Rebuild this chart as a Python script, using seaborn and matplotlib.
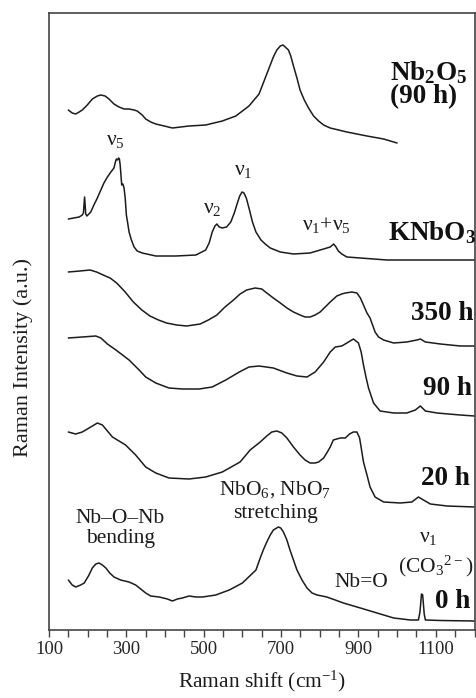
import numpy as np
import pandas as pd
import matplotlib
matplotlib.use("Agg")
import matplotlib.pyplot as plt
from matplotlib.ticker import FixedLocator, MultipleLocator
import seaborn as sns

# ---- Raman spectra (shift in cm^-1, relative intensity) and stacking offsets ----
nb2o5_shift = [150, 160, 169, 178, 186, 199, 212, 225, 234, 245, 255, 268, 281, 294, 307,
               320, 328, 341, 350, 363, 376, 398, 419, 462, 505, 548, 583, 617, 643, 654,
               663, 672, 680, 689, 698, 705, 719, 725, 732, 741, 749, 760, 771, 784, 797,
               810, 827, 870, 922, 965, 1000]
nb2o5_int = [35, 32, 31, 33, 35, 40, 46, 49, 50, 49, 46, 41, 38, 36, 36,
             35, 34, 30, 26, 23, 21, 19, 17, 19, 20, 24, 29, 39, 51, 62,
             71, 80, 88, 95, 99, 100, 95, 89, 79, 67, 55, 45, 37, 29, 24,
             20, 17, 13, 9, 6, 2]

knbo3_shift = [150, 178, 186, 189, 192, 195, 198, 208, 216, 225, 234, 242, 251, 260, 268,
               271, 274, 277, 280, 282, 284, 288, 291, 294, 297, 300, 303, 307, 313, 320,
               328, 341, 376, 428, 480, 505, 514, 522, 529, 534, 540, 548, 559, 570, 579,
               587, 593, 599, 604, 610, 617, 626, 635, 648, 659, 672, 698, 732, 775, 810,
               827, 836, 842, 848, 857, 870, 905, 974, 1200]
knbo3_int = [41, 43, 45, 47, 63, 46, 44, 48, 55, 62, 70, 77, 83, 88, 92,
             97, 101, 100, 102, 101, 95, 75, 76, 72, 62, 45, 38, 28, 20, 13,
             9, 7, 4, 4, 5, 10, 17, 28, 34, 36, 33, 32, 33, 38, 47,
             57, 64, 68, 67, 62, 52, 38, 28, 20, 16, 12, 8, 6, 7, 11,
             13, 16, 13, 9, 6, 3, 2, 0, 0]

h350_shift = [150, 180, 206, 223, 240, 258, 275, 297, 318, 340, 361, 383, 404, 430, 456,
              491, 512, 534, 555, 577, 594, 611, 633, 650, 663, 680, 698, 715, 732, 749,
              762, 775, 788, 801, 814, 827, 844, 857, 866, 883, 896, 905, 913, 922, 930,
              943, 952, 965, 991, 1025, 1051, 1060, 1073, 1112, 1163, 1200]
h350_int = [78, 79, 80, 78, 75, 72, 67, 58, 48, 40, 34, 30, 27, 25, 24,
            26, 30, 35, 43, 50, 56, 60, 62, 61, 57, 52, 47, 42, 38, 35,
            33, 33, 35, 38, 43, 48, 54, 56, 57, 58, 57, 52, 45, 37, 32,
            18, 13, 10, 7, 8, 10, 11, 8, 6, 4, 4]

h90_shift = [150, 186, 221, 234, 251, 273, 290, 307, 320, 333, 350, 376, 410, 445, 488,
             522, 557, 592, 617, 643, 680, 715, 741, 767, 788, 810, 827, 840, 857, 870,
             887, 900, 907, 913, 920, 926, 939, 956, 991, 1025, 1047, 1060, 1073, 1103, 1163,
             1200]
h90_int = [82, 83, 84, 82, 76, 70, 65, 60, 55, 50, 43, 37, 32, 31, 31,
           33, 40, 48, 53, 54, 52, 47, 44, 43, 48, 58, 68, 73, 74, 77,
           81, 77, 68, 55, 42, 32, 17, 9, 7, 7, 10, 14, 9, 7, 5,
           4]

h20_shift = [150, 169, 186, 208, 225, 238, 251, 264, 281, 298, 324, 350, 376, 410, 462,
             505, 548, 594, 620, 646, 663, 676, 689, 702, 715, 732, 749, 762, 775, 788,
             797, 810, 818, 827, 835, 853, 866, 877, 887, 896, 903, 913, 922, 930, 943,
             965, 1008, 1038, 1055, 1068, 1086, 1129, 1200]
h20_int = [78, 76, 78, 83, 87, 85, 79, 73, 69, 65, 55, 43, 37, 32, 31,
           33, 38, 48, 60, 68, 74, 78, 79, 77, 72, 63, 55, 50, 47, 47,
           48, 52, 57, 63, 70, 72, 72, 76, 78, 78, 72, 48, 35, 23, 13,
           8, 7, 8, 13, 10, 6, 4, 3]

h0_shift = [150, 160, 169, 182, 191, 202, 212, 221, 229, 238, 247, 257, 268, 285, 307,
            324, 337, 350, 363, 385, 406, 419, 432, 445, 462, 480, 497, 531, 566, 600,
            635, 646, 654, 663, 672, 680, 693, 699, 706, 715, 723, 732, 741, 754, 767,
            780, 793, 806, 818, 840, 861, 905, 948, 991, 1034, 1055, 1059, 1063, 1066, 1070,
            1073, 1112, 1200]
h0_int = [42, 37, 35, 37, 39, 46, 54, 58, 59, 57, 54, 49, 45, 42, 40,
          37, 33, 29, 26, 25, 23, 21, 23, 24, 26, 25, 25, 27, 32, 39,
          52, 64, 72, 80, 87, 92, 95, 94, 90, 82, 72, 62, 52, 42, 34,
          29, 27, 26, 25, 22, 19, 14, 9, 4, 2, 2, 10, 28, 27, 8,
          2, 1.5, 1]

sample_names = ["Nb2O5 (90 h)", "KNbO3", "350 h", "90 h", "20 h", "0 h"]
sample_offsets = [485, 370, 280, 210, 120, 8]
sample_shifts = [nb2o5_shift, knbo3_shift, h350_shift, h90_shift, h20_shift, h0_shift]
sample_ints = [nb2o5_int, knbo3_int, h350_int, h90_int, h20_int, h0_int]

# ---- style ----
sns.set_theme(style="white")
plt.rcParams["font.family"] = ["Liberation Serif", "DejaVu Serif"]
plt.rcParams["mathtext.fontset"] = "custom"
plt.rcParams["mathtext.rm"] = "Liberation Serif"
plt.rcParams["mathtext.bf"] = "Liberation Serif:bold"
plt.rcParams["mathtext.default"] = "regular"

frames = []
for name, sh, it, off in zip(sample_names, sample_shifts, sample_ints, sample_offsets):
    frames.append(pd.DataFrame({"shift": sh,
                                "intensity": np.asarray(it, dtype=float) + off,
                                "sample": name}))
df = pd.concat(frames, ignore_index=True)

fig = plt.figure(figsize=(4.76, 6.98), dpi=100)
ax = fig.add_axes([49 / 476, 68 / 698, 425.5 / 476, 617 / 698])

sns.lineplot(data=df, x="shift", y="intensity", units="sample", estimator=None,
             color="#1c1c1c", linewidth=1.1, sort=False, legend=False, ax=ax)

ax.set_xlim(100, 1200)
ax.set_ylim(0, 617)
ax.set_yticks([])
ax.xaxis.set_major_locator(FixedLocator([100, 300, 500, 700, 900, 1100]))
ax.xaxis.set_minor_locator(MultipleLocator(50))
ax.tick_params(axis="x", which="both", direction="out", length=5, width=1.0,
               color="#444444", labelsize=13.5, pad=3, bottom=True)
for s in ax.spines.values():
    s.set_color("#444444")
    s.set_linewidth(1.2)

ax.set_xlabel("Raman shift (cm$^{-1}$)", fontsize=15.5, labelpad=8, color="#1c1c1c")
ax.set_ylabel("Raman Intensity (a.u.)", fontsize=16, color="#1c1c1c")
ax.yaxis.set_label_coords(-0.038, 0.442)

# ---- sample labels (bold) ----
bold = dict(fontsize=19.5, fontweight="bold", color="#111111", va="baseline")
ax.text(982, 550, "Nb$_2$O$_5$", ha="left", **bold)
ax.text(982, 527, "(90 h)", ha="left", **bold)
ax.text(1205, 390, "KNbO$_3$", ha="right", clip_on=False, **bold)
ax.text(1197, 310, "350 h", ha="right", **bold)
ax.text(1193, 235, "90 h", ha="right", **bold)
ax.text(1189, 145, "20 h", ha="right", **bold)
ax.text(1189, 22, "0 h", ha="right", **bold)

# ---- band assignments ----
note = dict(fontsize=15.5, color="#1c1c1c", ha="center")
ax.text(272, 490, "ν$_5$", va="center", **note)
ax.text(602, 459, "ν$_1$", va="center", **note)
ax.text(522, 422, "ν$_2$", va="center", **note)
ax.text(818, 405, "ν$_1$+ν$_5$", va="center", **note)
ax.text(284, 107, "Nb–O–Nb", va="baseline", **note)
ax.text(286, 87, "bending", va="baseline", **note)
ax.text(685, 135, "NbO$_6$, NbO$_7$", va="baseline", **note)
ax.text(685, 112, "stretching", va="baseline", **note)
ax.text(907, 43, "Nb=O", va="baseline", **note)
ax.text(1080, 88, "ν$_1$", va="baseline", **note)
ax.text(1101, 58, "(CO$_3$$^{2-}$)", va="baseline", **note)

fig.savefig("out.png", dpi=100)
